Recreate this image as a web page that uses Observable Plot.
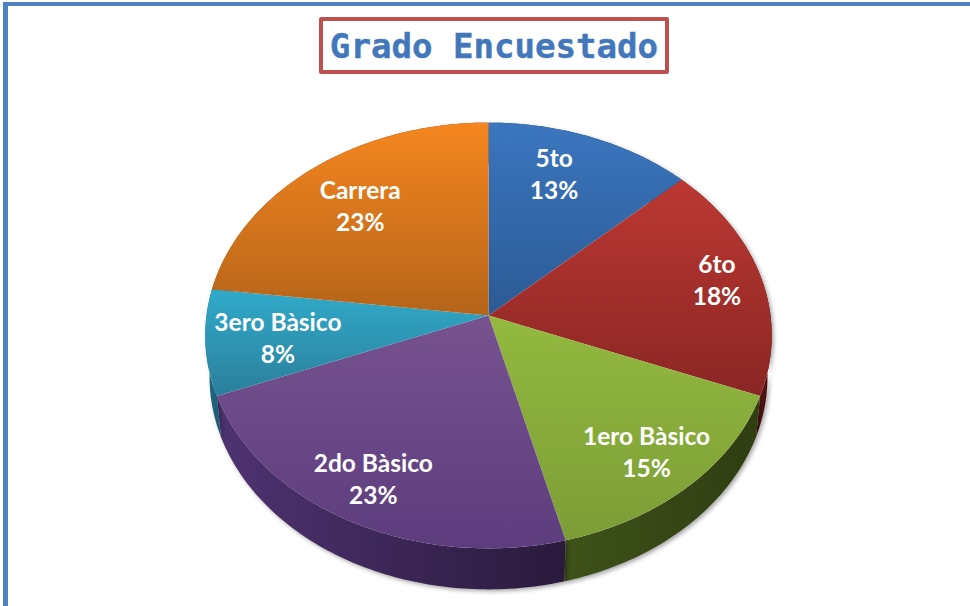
<!DOCTYPE html>
<html><head><meta charset="utf-8">
<script src="https://cdn.jsdelivr.net/npm/d3@7/dist/d3.min.js"></script>
<script src="https://cdn.jsdelivr.net/npm/@observablehq/plot@0.6/dist/plot.umd.min.js"></script>
<style>
html,body{margin:0;padding:0;background:#fff;width:970px;height:606px;overflow:hidden}
#frameTop{position:absolute;left:3px;top:2px;width:967px;height:4px;background:#4f81bd}
#frameLeft{position:absolute;left:3px;top:2px;width:5px;height:604px;background:#4f81bd}
#title{position:absolute;left:319px;top:17px;width:342px;height:49px;border:4px solid #c0504d;border-radius:2px;
 font:bold 34.1px/50px "DejaVu Sans Mono",monospace;color:#4377bb;-webkit-text-stroke:.4px #4377bb;text-align:center;white-space:pre;background:#fff}
#chart{position:absolute;left:0;top:0}
g[fill^="url(#wall"]{filter:drop-shadow(2px 2px 2px rgba(0,0,0,.35))}
</style></head><body>
<div id="chart"></div><div id="frameTop"></div><div id="frameLeft"></div>
<div id="title">Grado Encuestado</div>
<script>
// Data
const categories = ["5to","6to","1ero Bàsico","2do Bàsico","3ero Bàsico","Carrera"];
const shares = [13,18,15,23,8,23];
// Styles
const topLight = ["#3b76bf","#bc3832","#93b93f","#77528f","#31aaca","#f5861f"];
const topDark  = ["#2c5a94","#8a2624","#7c9d37","#5d3d7e","#2b7f9b","#b5641a"];
const wallLight= ["#23456f","#7a1f1c","#3e5219","#4f3372","#21708a","#8c4c14"];
const wallDark = ["#1c3658","#4a1311","#2f3d12","#2a1a3c","#1b5a70","#6a3910"];
// Label placement: [fraction along the slice's angle, fraction of the radius]
const labelSpot = [[.41,.755],[.488,.84],[.511,.808],[.51,.816],[.46,.747],[.5,.723]];
// Projection of the tilted disc
const cx=488, cy=315, R=282, B=211, k=.094, depth=41, shrink=.985;
const project=(th,r=1)=>{const u=r*Math.sin(th),v=r*Math.cos(th),d=1+k*v;return [cx+R*u/d,cy-B*v/d];};
const total=d3.sum(shares);
let acc=0;
const slices=categories.map((name,i)=>{const a0=acc/total*2*Math.PI;acc+=shares[i];const a1=acc/total*2*Math.PI;return {name,i,a0,a1,share:shares[i]};});
const arc=s=>{const n=Math.ceil((s.a1-s.a0)*60);return d3.range(n+1).map(j=>s.a0+(s.a1-s.a0)*j/n);};
const faces=slices.flatMap(s=>[[cx,cy],...arc(s).map(t=>project(t))].map(([x,y])=>({name:s.name,x,y})));
const lower=t=>{const [x,y]=project(t);return [cx+(x-cx)*shrink,y+depth];};
const walls=slices.flatMap(s=>[...arc(s).map(t=>project(t)),...arc(s).reverse().map(lower)].map(([x,y])=>({name:s.name,x,y})));
const labels=slices.map((s,i)=>{const [t,r]=labelSpot[i];const [x,y]=project(s.a0+(s.a1-s.a0)*t,r);return {x,y,name:s.name,pct:`${s.share}%`};});

const svgNS="http://www.w3.org/2000/svg";
const defs=(index,scales,values,dims,context)=>{
  const doc=context.document, d=doc.createElementNS(svgNS,"defs");
  const grad=(id,c0,c1,horizontal)=>{const g=doc.createElementNS(svgNS,"linearGradient");g.setAttribute("id",id);
    g.setAttribute("x1","0");g.setAttribute("y1","0");g.setAttribute("x2",horizontal?"1":"0");g.setAttribute("y2",horizontal?"0":"1");
    [["0",c0],["1",c1]].forEach(([o,c])=>{const st=doc.createElementNS(svgNS,"stop");st.setAttribute("offset",o);st.setAttribute("stop-color",c);g.appendChild(st);});
    d.appendChild(g);};
  categories.forEach((_,i)=>{grad("top"+i,topLight[i],topDark[i],false);grad("wall"+i,wallLight[i],wallDark[i],true);});
  return d;
};
const textStyle={x:"x",y:"y",fill:"#fff",fontSize:24.5,fontWeight:700,fontFamily:"Lato",textAnchor:"middle"};
const chart=Plot.plot({
  width:970,height:606,margin:0,
  x:{domain:[0,970],range:[0,970],axis:null},
  y:{domain:[0,606],range:[0,606],axis:null},
  marks:[
    defs,
    ...categories.map((name,i)=>Plot.line(walls.filter(d=>d.name===name),{x:"x",y:"y",fill:`url(#wall${i})`,stroke:"none",curve:"linear-closed"})),
    ...categories.map((name,i)=>Plot.line(faces.filter(d=>d.name===name),{x:"x",y:"y",fill:`url(#top${i})`,stroke:"none",curve:"linear-closed"})),
    Plot.text(labels,{...textStyle,text:"name",dy:-15}),
    Plot.text(labels,{...textStyle,text:"pct",dy:17})
  ]
});
document.getElementById("chart").appendChild(chart);
</script></body></html>
